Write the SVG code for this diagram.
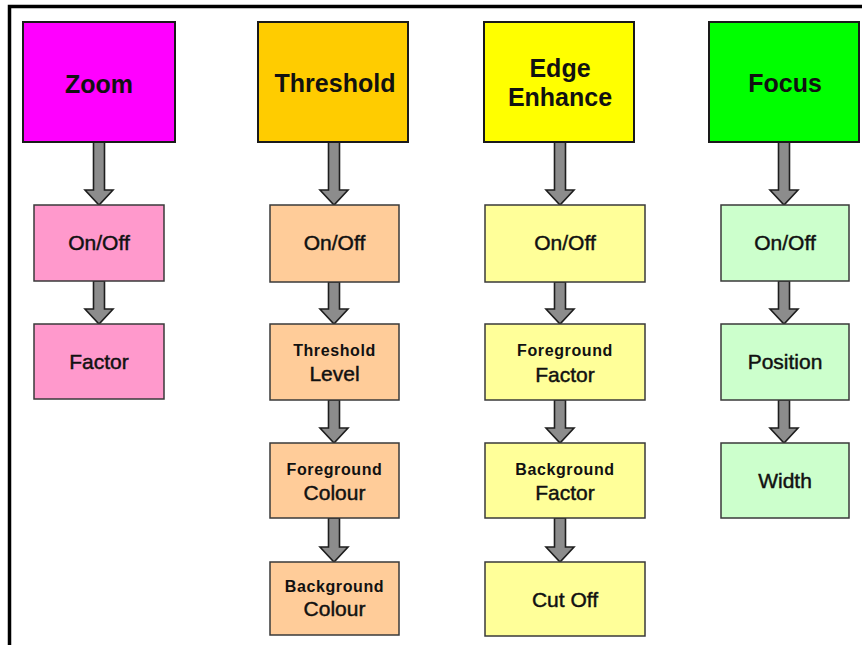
<svg xmlns="http://www.w3.org/2000/svg" width="862" height="645" viewBox="0 0 862 645">
  <style>
    .hdr { stroke: #1a1a1a; stroke-width: 2; }
    .box { stroke: #3a3a3a; stroke-width: 1.5; }
    .arrow { fill: #8c8c8c; stroke: #1e1e1e; stroke-width: 1.6; stroke-linejoin: miter; }
    text { font-family: "Liberation Sans", Arial, sans-serif; fill: #111; text-anchor: middle; }
    .ht { font-size: 25px; font-weight: bold; }
    .ct { font-size: 21px; stroke: #111; stroke-width: 0.45px; }
    .st { font-size: 16px; font-weight: bold; letter-spacing: 0.6px; }
    .zoomH { fill: #ff00ff; } .zoomC { fill: #ff99cc; }
    .thrH { fill: #ffcc00; } .thrC { fill: #ffcc99; }
    .edgeH { fill: #ffff00; } .edgeC { fill: #ffff99; }
    .focH { fill: #00ff00; } .focC { fill: #ccffcc; }
  </style>
  <rect width="862" height="645" fill="#ffffff"/>
  <!-- frame -->
  <path d="M9.5 645 V6.5 H862" fill="none" stroke="#000" stroke-width="3.5"/>

  <!-- connectors -->
  <g id="connectors">
    <!-- Zoom column -->
    <polygon class="arrow" points="93.5,142 104.5,142 104.5,190 113,190 99,205 85,190 93.5,190"/>
    <polygon class="arrow" points="93.5,281 104.5,281 104.5,309 113,309 99,324 85,309 93.5,309"/>
    <!-- Threshold column -->
    <polygon class="arrow" points="328.5,142 339.5,142 339.5,190 348,190 334,205 320,190 328.5,190"/>
    <polygon class="arrow" points="328.5,282 339.5,282 339.5,309 348,309 334,324 320,309 328.5,309"/>
    <polygon class="arrow" points="328.5,400 339.5,400 339.5,428 348,428 334,443 320,428 328.5,428"/>
    <polygon class="arrow" points="328.5,518 339.5,518 339.5,547 348,547 334,562 320,547 328.5,547"/>
    <!-- Edge Enhance column -->
    <polygon class="arrow" points="554.5,142 565.5,142 565.5,190 574,190 560,205 546,190 554.5,190"/>
    <polygon class="arrow" points="554.5,282 565.5,282 565.5,309 574,309 560,324 546,309 554.5,309"/>
    <polygon class="arrow" points="554.5,400 565.5,400 565.5,428 574,428 560,443 546,428 554.5,428"/>
    <polygon class="arrow" points="554.5,518 565.5,518 565.5,547 574,547 560,562 546,547 554.5,547"/>
    <!-- Focus column -->
    <polygon class="arrow" points="778.5,142 789.5,142 789.5,190 798,190 784,205 770,190 778.5,190"/>
    <polygon class="arrow" points="778.5,281 789.5,281 789.5,309 798,309 784,324 770,309 778.5,309"/>
    <polygon class="arrow" points="778.5,400 789.5,400 789.5,428 798,428 784,443 770,428 778.5,428"/>
  </g>

  <!-- Zoom -->
  <g id="zoom">
    <rect class="hdr zoomH" x="23" y="22" width="152" height="120"/>
    <text class="ht" x="99" y="93">Zoom</text>
  </g>
  <g id="zoom-onoff">
    <rect class="box zoomC" x="34" y="205" width="130" height="76"/>
    <text class="ct" x="99" y="250">On/Off</text>
  </g>
  <g id="zoom-factor">
    <rect class="box zoomC" x="34" y="324" width="130" height="75"/>
    <text class="ct" x="99" y="369">Factor</text>
  </g>

  <!-- Threshold -->
  <g id="threshold">
    <rect class="hdr thrH" x="258" y="22" width="150" height="120"/>
    <text class="ht" x="335" y="92">Threshold</text>
  </g>
  <g id="threshold-onoff">
    <rect class="box thrC" x="270" y="205" width="129" height="77"/>
    <text class="ct" x="334.5" y="250">On/Off</text>
  </g>
  <g id="threshold-level">
    <rect class="box thrC" x="270" y="324" width="129" height="76"/>
    <text class="st" x="334.5" y="356">Threshold</text>
    <text class="ct" x="334.5" y="381">Level</text>
  </g>
  <g id="threshold-fg">
    <rect class="box thrC" x="270" y="443" width="129" height="75"/>
    <text class="st" x="334.5" y="475">Foreground</text>
    <text class="ct" x="334.5" y="500">Colour</text>
  </g>
  <g id="threshold-bg">
    <rect class="box thrC" x="270" y="562" width="129" height="73"/>
    <text class="st" x="334.5" y="592">Background</text>
    <text class="ct" x="334.5" y="616">Colour</text>
  </g>

  <!-- Edge Enhance -->
  <g id="edge">
    <rect class="hdr edgeH" x="484" y="22" width="150" height="120"/>
    <text class="ht" x="560" y="77">Edge</text>
    <text class="ht" x="560" y="106">Enhance</text>
  </g>
  <g id="edge-onoff">
    <rect class="box edgeC" x="485" y="205" width="160" height="77"/>
    <text class="ct" x="565" y="250">On/Off</text>
  </g>
  <g id="edge-fg">
    <rect class="box edgeC" x="485" y="324" width="160" height="76"/>
    <text class="st" x="565" y="356">Foreground</text>
    <text class="ct" x="565" y="382">Factor</text>
  </g>
  <g id="edge-bg">
    <rect class="box edgeC" x="485" y="443" width="160" height="75"/>
    <text class="st" x="565" y="475">Background</text>
    <text class="ct" x="565" y="500">Factor</text>
  </g>
  <g id="edge-cutoff">
    <rect class="box edgeC" x="485" y="562" width="160" height="74"/>
    <text class="ct" x="565" y="607">Cut Off</text>
  </g>

  <!-- Focus -->
  <g id="focus">
    <rect class="hdr focH" x="709" y="22" width="150" height="120"/>
    <text class="ht" x="785" y="92">Focus</text>
  </g>
  <g id="focus-onoff">
    <rect class="box focC" x="721" y="205" width="128" height="76"/>
    <text class="ct" x="785" y="250">On/Off</text>
  </g>
  <g id="focus-position">
    <rect class="box focC" x="721" y="324" width="128" height="76"/>
    <text class="ct" x="785" y="369">Position</text>
  </g>
  <g id="focus-width">
    <rect class="box focC" x="721" y="443" width="128" height="75"/>
    <text class="ct" x="785" y="488">Width</text>
  </g>
</svg>
